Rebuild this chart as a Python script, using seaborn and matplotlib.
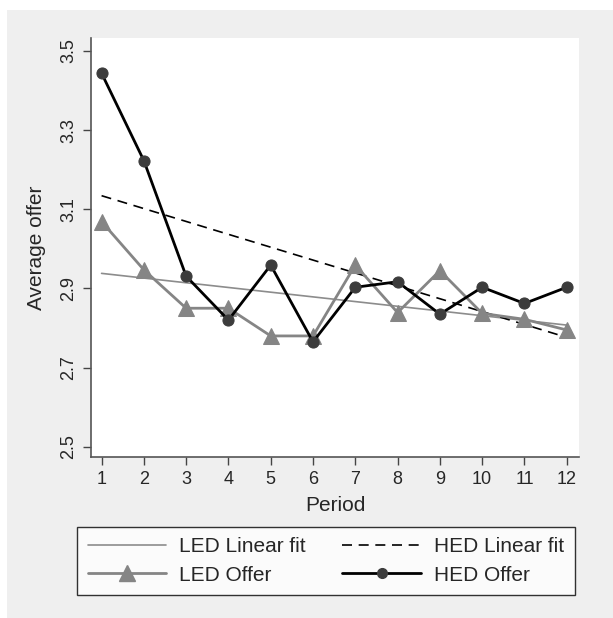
import matplotlib
matplotlib.use("Agg")
import matplotlib.pyplot as plt
import seaborn as sns
import pandas as pd
from matplotlib.patches import Rectangle
from matplotlib.lines import Line2D

periods = list(range(1, 13))
led_offer = [3.069, 2.947, 2.850, 2.850, 2.780, 2.780, 2.959, 2.839, 2.945, 2.837, 2.822, 2.795]
hed_offer = [3.444, 3.223, 2.931, 2.820, 2.959, 2.765, 2.903, 2.917, 2.835, 2.903, 2.862, 2.903]
y_ticks = [2.5, 2.7, 2.9, 3.1, 3.3, 3.5]

df = pd.DataFrame({"Period": periods, "LED": led_offer, "HED": hed_offer})

sns.set_style("ticks")
plt.rcParams["font.family"] = ["Liberation Sans", "DejaVu Sans"]

fig = plt.figure(figsize=(6.13, 6.18), dpi=100, facecolor="white")
W, H = 613, 618
fig.patches.append(Rectangle((7 / W, 0), 1, 1 - 10 / H, transform=fig.transFigure,
                             facecolor="#efefef", edgecolor="none", zorder=-10))

ax = fig.add_axes([91 / W, 1 - 457 / H, (579 - 91) / W, (457 - 38) / H])
ax.set_facecolor("white")

led_grey = "#858585"
dash = (0, (6, 4))
sns.regplot(data=df, x="Period", y="LED", scatter=False, ci=None, truncate=True, ax=ax,
            line_kws=dict(color="#8c8c8c", lw=1.2, zorder=2))
sns.regplot(data=df, x="Period", y="HED", scatter=False, ci=None, truncate=True, ax=ax,
            line_kws=dict(color="black", lw=1.2, ls=dash, zorder=2))
sns.lineplot(data=df, x="Period", y="LED", ax=ax, color=led_grey, lw=2.0,
             marker="^", markersize=11, markeredgecolor=led_grey, zorder=3)
sns.lineplot(data=df, x="Period", y="HED", ax=ax, color="black", lw=2.0,
             marker="o", markersize=8, markerfacecolor="#3c3c3c",
             markeredgecolor="#3c3c3c", zorder=4)

ax.set_xlim(0.75, 12.29)
ax.set_ylim(2.474, 3.533)
ax.set_xticks(periods)
ax.set_yticks(y_ticks)
ax.set_yticklabels([f"{v:.1f}" for v in y_ticks], rotation=90, va="center")
ax.tick_params(axis="both", labelsize=13, length=6, width=1, color="#444444", pad=4)
ax.set_xlabel("Period", fontsize=15, labelpad=6)
ax.set_ylabel("Average offer", fontsize=15, labelpad=10)
sns.despine(ax=ax)
for s in ["left", "bottom"]:
    ax.spines[s].set_color("#555555")
    ax.spines[s].set_linewidth(1.2)

handles = [
    Line2D([], [], color="#8c8c8c", lw=1.2),
    Line2D([], [], color=led_grey, lw=2.0, marker="^", markersize=11),
    Line2D([], [], color="black", lw=1.2, ls=dash),
    Line2D([], [], color="black", lw=2.0, marker="o", markersize=7,
           markerfacecolor="#3c3c3c", markeredgecolor="#3c3c3c"),
]
labels = ["LED Linear fit", "LED Offer", "HED Linear fit", "HED Offer"]
leg = fig.legend(handles, labels, ncol=2, loc="center",
                 bbox_to_anchor=(326 / W, 1 - 561 / H), fontsize=15,
                 frameon=True, fancybox=False, edgecolor="black",
                 handlelength=3.75, handletextpad=0.65, columnspacing=1.75,
                 labelspacing=0.45, borderpad=0.5)
leg.get_frame().set_linewidth(1.0)

fig.savefig("out.png", dpi=100, facecolor="white")
